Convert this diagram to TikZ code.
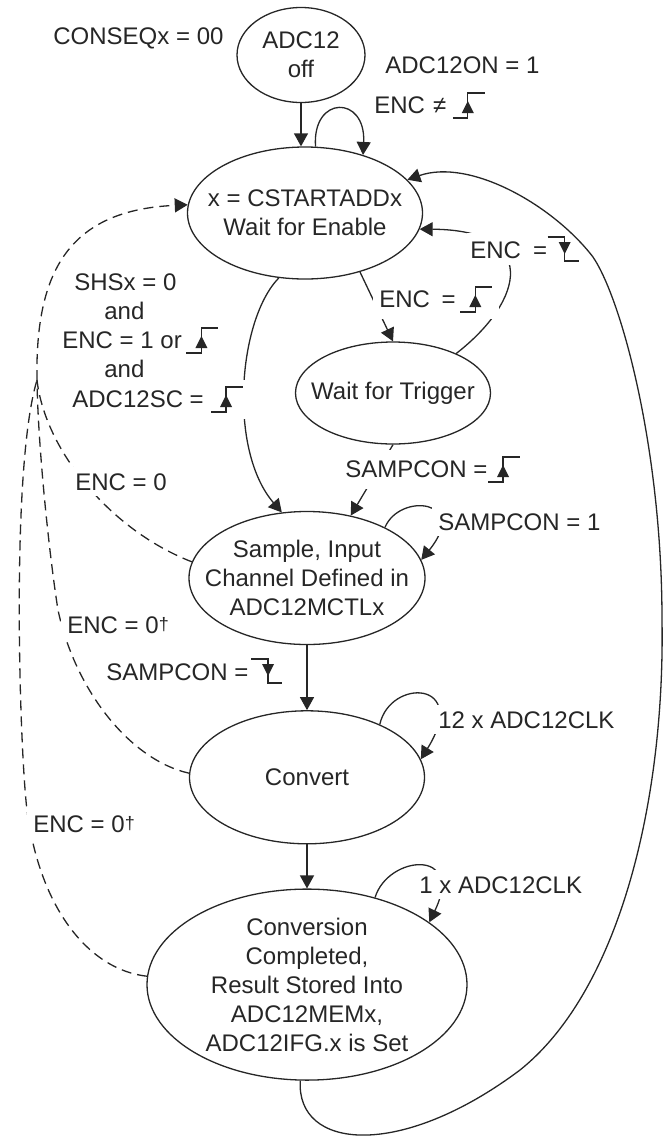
\documentclass[tikz,border=0pt]{standalone}
\usepackage{fontspec}
\setmainfont{Liberation Sans}
\usetikzlibrary{arrows.meta, shapes.geometric, positioning}
\definecolor{ink}{HTML}{262626}
\newcommand{\rise}{\tikz[baseline=0pt, x=1pt, y=1pt, line width=0.6pt]{%
  \draw[ink, fill=none] (0,-2.5) -- (7.5,-2.5) -- (7.5,10) -- (16,10);
  \fill[ink] (4.5,0) -- (10.5,0) -- (7.5,6) -- cycle;}}
\newcommand{\fall}{\tikz[baseline=0pt, x=1pt, y=1pt, line width=0.6pt]{%
  \draw[ink, fill=none] (0,10.5) -- (8.5,10.5) -- (8.5,-1.5) -- (15.5,-1.5);
  \fill[ink] (5.5,8) -- (11.5,8) -- (8.5,2) -- cycle;}}
\newcommand{\dg}{\raisebox{1.5pt}{\fontsize{9}{9}\selectfont †}}
\tikzset{
  st/.style    = {ellipse, draw=ink, line width=0.65pt, inner sep=0pt},
  stext/.style = {align=center, text=ink},
  arr/.style   = {-{Triangle[length=6.5pt,width=7pt]}, line width=0.65pt, ink},
  darr/.style  = {arr, dash pattern=on 5pt off 3pt},
  dline/.style = {line width=0.65pt, ink, dash pattern=on 5pt off 3pt},
  labl/.style  = {anchor=base west, fill=white, inner sep=3pt, text=ink},
}
\begin{document}
\begin{tikzpicture}[x=0.5pt, y=-0.5pt, font=\fontsize{12}{14.5}\selectfont]
  \useasboundingbox (0,0) rectangle (665,1142);

  % states
  \node[st, minimum width=64pt, minimum height=47.5pt,
        label={[stext]center:{ADC12\\off}}] (off) at (301,55) {};
  \node[st, minimum width=117.5pt, minimum height=66pt,
        label={[stext]center:{x = CSTARTADDx\\Wait for Enable}}] (wfe) at (305,213) {};
  \node[st, minimum width=97.5pt, minimum height=51pt,
        label={[stext]center:{Wait for Trigger}}] (wft) at (393,393) {};
  \node[st, minimum width=118pt, minimum height=66.5pt,
        label={[stext]center:{Sample, Input\\Channel Defined in\\ADC12MCTLx}}] (samp) at (307,578) {};
  \node[st, minimum width=117.5pt, minimum height=66.5pt, below=32.5pt of samp,
        label={[stext]center:{Convert}}] (conv) {};
  \node[st, minimum width=160pt, minimum height=95.5pt, below=22pt of conv,
        label={[stext]center:{Conversion\\Completed,\\Result Stored Into\\ADC12MEMx,\\ADC12IFG.x is Set}}] (done) {};

  % transitions
  \draw[arr] (off) -- (off |- wfe.north);
  \draw[arr] (wfe.81) .. controls (312,95) and (366,95) .. (wfe.45);
  \draw[arr] (wfe.248) .. controls (238,320) and (228,450) .. (samp.111);
  \draw[arr] (wfe.-47) -- (wft.north);
  \draw[arr] (wft.32) .. controls (525,300) and (540,230) .. (wfe.-8);
  \draw[arr] (wft.south) -- (samp.55);
  \draw[arr] (samp.33) .. controls (400,492) and (470,500) .. (samp.9);
  \draw[arr] (samp) -- (conv);
  \draw[arr] (conv.36) .. controls (390,678) and (470,680) .. (conv.9);
  \draw[arr] (conv) -- (done);
  \draw[arr] (done.52) .. controls (388,855) and (465,848) .. (done.27);

  % ENC = 0 resets, dashed
  \coordinate (jn) at (37,380);
  \draw[darr] (jn) .. controls (35,270) and (70,210) .. (wfe.176);
  \draw[dline] (samp.172) .. controls (110,530) and (45,450) .. (jn);
  \draw[dline] (conv.178) .. controls (130,760) and (75,690) .. (58,610)
                          .. controls (50,560) and (38,450) .. (jn);
  \draw[dline] (done.177) .. controls (90,970) and (40,910) .. (27,810)
                          .. controls (20,755) and (10,470) .. (jn);

  % conditions
  \node[labl] (cq)  at (47,44)   {CONSEQx = 00};
  \node[labl] (on)  at (379,73)  {ADC12ON = 1};
  \node[labl] (ne)  at (368,113) {ENC\hspace{4pt}≠\hspace{3pt}\rise};
  \node[labl, inner sep=1.5pt] (ef) at (467,258) {ENC\hspace{6pt}=\fall};
  \node[labl] (er)  at (373,307) {ENC\hspace{5.8pt}=\hspace{2pt}\rise};
  \node[labl] (shs) at (68,290)  {SHSx = 0};
  \node[labl] (an1) at (98,319)  {and};
  \node[labl] (en1) at (56,348)  {ENC = 1 or\hspace{2pt}\rise};
  \node[labl] (an2) at (98,377)  {and};
  \node[labl] (sc)  at (66,407)  {ADC12SC = \rise};
  \node[labl] (e0)  at (69,490)  {ENC = 0};
  \node[labl] (sr)  at (339,477) {SAMPCON =\rise};
  \node[labl] (s1)  at (432,530) {SAMPCON = 1};
  \node[labl] (ed1) at (61,633)  {ENC = 0\dg};
  \node[labl] (sf)  at (100,680) {SAMPCON =\hspace{1pt}\fall};
  \node[labl] (c12) at (432,728) {12 x ADC12CLK};
  \node[labl] (ed2) at (27,832)  {ENC = 0\dg};
  \node[labl] (c1)  at (413,893) {1 x ADC12CLK};

  % back to start
  \draw[arr] (done.266) .. controls (296,1150) and (400,1160) .. (520,1070)
             .. controls (620,990) and (665,800) .. (662,620)
             .. controls (662,450) and (622,300) .. (593,257)
             .. controls (553,205) and (470,158) .. (wfe.18);

\end{tikzpicture}
\end{document}
